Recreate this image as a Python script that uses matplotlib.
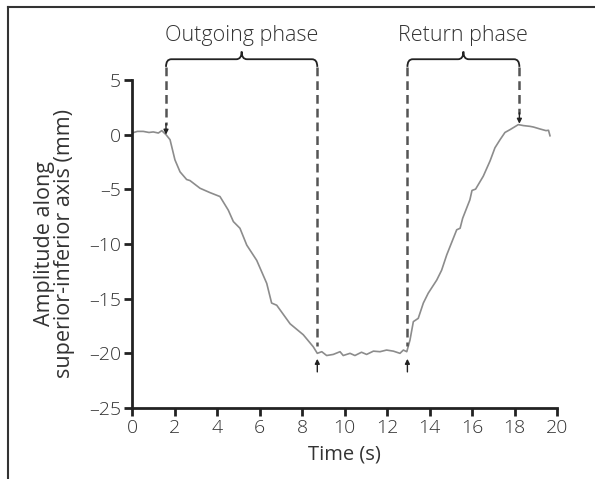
import matplotlib
matplotlib.use("Agg")
import matplotlib.pyplot as plt
from matplotlib.path import Path
from matplotlib.patches import PathPatch
from matplotlib.lines import Line2D

plt.rcParams['font.family'] = ['Open Sans', 'DejaVu Sans']
plt.rcParams['font.weight'] = 'light'

# trace
time_s = [0.0, 0.25, 0.53, 0.8, 1.0, 1.24, 1.4, 1.6, 1.79, 2.02, 2.26, 2.57, 2.73,
          3.2, 3.67, 4.14, 4.53, 4.77, 5.08, 5.4, 5.87, 6.34, 6.57, 6.81, 7.44,
          8.06, 8.53, 8.72, 8.93, 9.16, 9.47, 9.79, 9.94, 10.26, 10.49, 10.8, 11.04,
          11.36, 11.67, 11.98, 12.3, 12.61, 12.77, 12.93, 13.08, 13.24, 13.47,
          13.71, 13.94, 14.34, 14.57, 14.81, 15.28, 15.44, 15.56, 15.9, 16.0,
          16.17, 16.53, 16.85, 17.08, 17.32, 17.55, 17.79, 18.18, 18.42, 18.73,
          18.89, 19.2, 19.48, 19.6, 19.67]
amplitude = [0.15, 0.3, 0.3, 0.2, 0.25, 0.15, 0.37, 0.0, -0.46, -2.3, -3.4, -4.1, -4.2,
             -4.9, -5.3, -5.66, -6.9, -7.95, -8.56, -10.1, -11.5, -13.6, -15.4, -15.6, -17.3,
             -18.3, -19.4, -20.0, -19.85, -20.2, -20.1, -19.85, -20.2, -20.0, -20.2, -19.9, -20.1,
             -19.8, -19.85, -19.7, -19.8, -20.0, -19.7, -19.85, -18.8, -17.1, -16.8,
             -15.4, -14.5, -13.3, -12.4, -11.0, -8.7, -8.56, -7.65, -5.96, -5.1,
             -4.98, -3.8, -2.4, -1.2, -0.46, 0.2, 0.46, 0.92, 0.83, 0.76,
             0.7, 0.52, 0.37, 0.4, -0.1]

phase_names = ["Outgoing phase", "Return phase"]
phase_start = [1.6, 12.96]
phase_end = [8.72, 18.23]

fig = plt.figure(figsize=(5.95, 4.79), dpi=100)
ax = fig.add_axes([132/595, 71/479, 425/595, 328/479])

ax.plot(time_s, amplitude, color='#8c8c8c', lw=1.2)

ax.set_xlim(0, 20)
ax.set_ylim(-25, 5)
ax.set_xticks(range(0, 21, 2))
ax.set_yticks(range(-25, 6, 5))
ax.set_yticklabels([str(v).replace('-', '\u2013') for v in range(-25, 6, 5)])
for s in ['top', 'right']:
    ax.spines[s].set_visible(False)
for s in ['left', 'bottom']:
    ax.spines[s].set_linewidth(2)
    ax.spines[s].set_color('#222222')
ax.tick_params(length=6, width=2, color='#222222', labelsize=14, labelcolor='#333333', pad=2)
ax.set_xlabel("Time (s)", fontsize=14.5, color='#333333', labelpad=5)
ax.set_ylabel("Amplitude along\nsuperior-inferior axis (mm)", fontsize=15.5,
              color='#333333', labelpad=10, linespacing=0.9)

dash = dict(color='#555555', lw=1.8, ls=(0, (3.5, 2)), clip_on=False)
y_bot, y_bar, y_tip = 6.2, 6.9, 7.6


def brace(x1, x2):
    xm = (x1 + x2) / 2
    r = 0.25
    verts = [(x1, y_bot), (x1, y_bar), (x1 + r, y_bar),
             (xm - r, y_bar), (xm, y_bar), (xm, y_tip),
             (xm, y_bar), (xm + r, y_bar),
             (x2 - r, y_bar), (x2, y_bar), (x2, y_bot)]
    codes = [Path.MOVETO, Path.CURVE3, Path.CURVE3,
             Path.LINETO, Path.CURVE3, Path.CURVE3,
             Path.CURVE3, Path.CURVE3,
             Path.LINETO, Path.CURVE3, Path.CURVE3]
    ax.add_patch(PathPatch(Path(verts, codes), fc='none', ec='#222222', lw=1.3, clip_on=False))
    return xm


for name, x1, x2 in zip(phase_names, phase_start, phase_end):
    xm = brace(x1, x2)
    ax.text(xm, 8.1, name, ha='center', va='bottom', fontsize=15.5, color='#333333')

arrow = dict(arrowstyle='-|>', color='#222222', lw=1, mutation_scale=7, shrinkA=0, shrinkB=0)
# down arrows at the top of the curve, up arrows under the plateau
ax.plot([phase_start[0], phase_start[0]], [y_bot, 0.9], **dash)
ax.annotate('', xy=(phase_start[0], 0.0), xytext=(phase_start[0], 1.0), arrowprops=arrow)
ax.plot([phase_end[0], phase_end[0]], [y_bot, -19.3], **dash)
ax.annotate('', xy=(phase_end[0], -20.5), xytext=(phase_end[0], -21.7), arrowprops=arrow)
ax.plot([phase_start[1], phase_start[1]], [y_bot, -19.3], **dash)
ax.annotate('', xy=(phase_start[1], -20.5), xytext=(phase_start[1], -21.7), arrowprops=arrow)
ax.plot([phase_end[1], phase_end[1]], [y_bot, 1.9], **dash)
ax.annotate('', xy=(phase_end[1], 1.0), xytext=(phase_end[1], 2.0), arrowprops=arrow)

# partial frame round the figure
fig.add_artist(Line2D([8/595, 1], [1 - 7/479, 1 - 7/479], color='#333333', lw=1.5))
fig.add_artist(Line2D([8/595, 8/595], [0, 1 - 7/479], color='#333333', lw=1.5))

fig.savefig("out.png", dpi=100)
